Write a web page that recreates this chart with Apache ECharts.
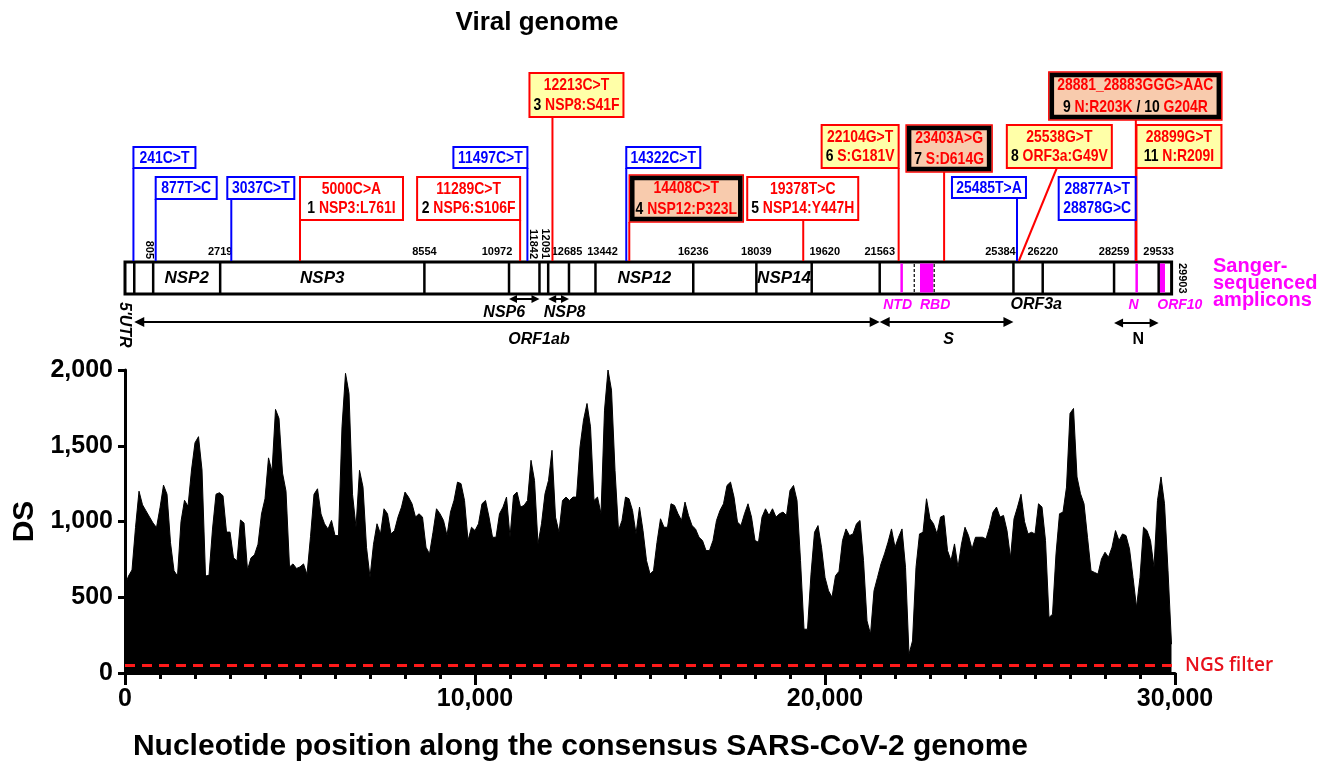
<!DOCTYPE html>
<html><head><meta charset="utf-8">
<script src="https://cdn.jsdelivr.net/npm/echarts@6/dist/echarts.min.js"></script>
<style>html,body{margin:0;padding:0;background:#fff}#main{width:1325px;height:772px}</style>
</head><body><div id="main"></div>
<script>
// ================= DATA =================
// DS coverage profile, one value every dsStep nucleotides
const dsStep = 100;
const dsValues = [
 576,640,680,960,1200,1110,1070,1030,990,960,
 1090,1240,1180,860,675,640,1000,1140,1100,1340,
 1520,1560,1340,640,645,950,1180,1190,1170,930,
 930,760,740,1010,990,680,760,780,850,1050,
 1150,1420,1330,1740,1680,1320,1200,700,720,690,
 700,720,650,900,1180,1216,1050,985,950,1007,
 907,907,1625,1978,1845,1180,962,1338,1227,830,
 631,850,985,918,1084,1051,918,940,1029,1095,
 1194,1161,1117,1029,1051,1029,830,786,929,1084,
 1051,1007,907,1062,1139,1260,1250,1139,874,962,
 940,985,1117,1139,1029,896,896,1051,1095,1161,
 896,1172,1194,1095,1106,1139,1404,1271,852,985,
 1183,1271,1470,1029,929,1139,1161,1139,1161,1161,
 1492,1669,1779,1625,1139,1161,1051,1735,2000,1867,
 1338,940,1007,1161,1150,1073,918,1095,940,742,
 653,675,863,1018,962,962,1117,1106,1051,1007,
 1128,1040,973,951,896,874,808,808,874,1007,
 1073,1117,1238,1260,1161,996,973,1051,1117,1029,
 874,863,1029,1084,1040,1084,1029,1051,1062,1040,
 1205,1238,1139,742,289,289,653,929,973,830,
 631,543,500,642,671,874,951,907,918,985,
 1007,742,344,256,543,631,720,786,863,951,
 830,896,951,698,124,212,698,918,929,1150,
 1018,985,918,1029,1040,808,742,852,698,852,
 962,907,819,896,896,896,885,962,1062,1095,
 1029,1040,940,760,1018,1095,1180,1000,918,929,
 918,1117,1095,874,366,388,786,1051,1062,1227,
 1713,1746,1294,1183,1117,896,675,664,653,753,
 797,764,830,940,874,918,907,819,631,433,
 631,962,940,874,698,1139,1294,1117,675,190
];
const ngsFilter = 50;
const yTicks = [0, 500, 1000, 1500, 2000];
const xTicks = [0, 10000, 20000, 30000];

// Genome map
const genomeLength = 29903;
const boundaries = [265, 805, 2719, 8554, 10972, 11842, 12091, 12685, 13442, 16236, 18039, 19620, 21563, 25384, 26220, 28259, 29533];
const boundaryLabels = [805, 2719, 8554, 10972, 11842, 12091, 12685, 13442, 16236, 18039, 19620, 21563, 25384, 26220, 28259, 29533, 29903];
const segmentNames = ['NSP2', 'NSP3', 'NSP12', 'NSP14'];
const segmentStarts = [805, 2719, 13442, 18039];
const segmentEnds = [2719, 8554, 16236, 19620];
const arrowNames = ['ORF1ab', 'S', 'N', 'NSP6', 'NSP8'];
const arrowStarts = [265, 21563, 28259, 10972, 12091];
const arrowEnds = [21563, 25384, 29533, 11842, 12685];
const plainRegionNames = ["5'UTR", 'ORF3a'];
const plainRegionStarts = [0, 25384];
const ampliconNames = ['NTD', 'RBD', 'N', 'ORF10'];
const ampliconStarts = [22190, 22714, 28905, 29550];
const ampliconEnds = [22190, 23094, 28905, 29715];
const rbdBounds = [22550, 23120];

// Mutations
const mutPos = [241, 877, 3037, 5000, 11289, 11497, 12213, 14322, 14408, 19378, 22104, 23403, 25485, 25538, 28877, 28881, 28899];
const mutNt = ['241C>T', '877T>C', '3037C>T', '5000C>A', '11289C>T', '11497C>T', '12213C>T', '14322C>T', '14408C>T', '19378T>C', '22104G>T', '23403A>G', '25485T>A', '25538G>T', '28877A>T\n28878G>C', '28881_28883GGG>AAC', '28899G>T'];
const mutAA = [null, null, null, [[1, 'NSP3:L761I']], [[2, 'NSP6:S106F']], null, [[3, 'NSP8:S41F']], null, [[4, 'NSP12:P323L']], [[5, 'NSP14:Y447H']], [[6, 'S:G181V']], [[7, 'S:D614G']], null, [[8, 'ORF3a:G49V']], null, [[9, 'N:R203K'], [10, 'G204R']], [[11, 'N:R209I']]];
const mutKind = ['syn', 'syn', 'syn', 'ns', 'ns', 'syn', 'nsY', 'syn', 'key', 'ns', 'nsY', 'key', 'syn', 'nsY', 'syn', 'key', 'nsY'];

// ================= LAYOUT / STYLE =================
const FONT = '"Liberation Sans", Arial, sans-serif';
const RED = '#ff0000', BLUE = '#0000ff', MAG = '#ff00ff', YEL = '#ffffa8', SAL = '#f8cbad';
const NARROW = 0.82;
const MAP = {barTop: 262, barBot: 294, numY: 252, geneY: 278, arrowY: 322, subArrowY: 299, labelY: 340, subLabelY: 313, ampLabelY: 305};
const boundaryLabelLayout = {805: {rot: 'up', dx: -4}, 11842: {rot: 'up', dx: -6}, 12091: {rot: 'up', dx: -3}, 29903: {rot: 'down', dx: 10},
  10972: {dx: -12}, 12685: {dx: -2}, 13442: {dx: 7}, 19620: {dx: 13}, 25384: {dx: -13}};
const arrowLayout = [
  {y: MAP.arrowY, ly: MAP.labelY, dx: 32, italic: true, head: 10},
  {y: MAP.arrowY, ly: MAP.labelY, dx: 2, italic: true, head: 10},
  {y: MAP.arrowY + 1, ly: MAP.labelY, dx: 2, italic: false, head: 9},
  {y: MAP.subArrowY, ly: MAP.subLabelY, dx: -20, italic: true, head: 8},
  {y: MAP.subArrowY, ly: MAP.subLabelY, dx: 6, italic: true, head: 8}
];
const ampLabelLayout = [{align: 'center', dx: -4}, {align: 'left', dx: 0}, {align: 'center', dx: -3}, {align: 'left', dx: -2}];
const boxLayout = [
  {top: 147, h: 21, w: 62, dx: 0},
  {top: 177, h: 22, w: 61, dx: 0},
  {top: 177, h: 22, w: 67, dx: -4},
  {top: 177, h: 43, w: 103, dx: 0},
  {top: 177, h: 43, w: 103, dx: -103},
  {top: 147, h: 21, w: 74, dx: -74},
  {top: 73, h: 44, w: 94, dx: -23},
  {top: 147, h: 21, w: 74, dx: 0},
  {top: 175, h: 47, w: 114, dx: 0},
  {top: 177, h: 43, w: 111, dx: -56},
  {top: 125, h: 43, w: 77, dx: -77},
  {top: 125, h: 47, w: 86, dx: -38},
  {top: 177, h: 21, w: 74, dx: -65},
  {top: 125, h: 43, w: 105, dx: -12, stemFrom: 50},
  {top: 177, h: 43, w: 77, dx: -77},
  {top: 72, h: 48, w: 173, dx: -87},
  {top: 125, h: 43, w: 85, dx: 0}
];
const BOXFONT = 'bold 17px ' + FONT;

const X = (api, v) => api.coord([v, 0])[0];
const mapSeries = (name, data, renderItem, z) => ({
  type: 'custom', name, coordinateSystem: 'cartesian2d', xAxisIndex: 1, yAxisIndex: 1,
  data, renderItem, z, clip: false, silent: true
});

function txt(x, y, text, font, fill, align, opts) {
  opts = opts || {};
  const el = {type: 'text', x, y, style: {text, font, fill, textAlign: align || 'center', textVerticalAlign: opts.va || 'middle'}};
  if (opts.scaleX) el.scaleX = opts.scaleX;
  if (opts.rotation) el.rotation = opts.rotation;
  if (opts.rich) el.style.rich = opts.rich;
  return el;
}

const chart = echarts.init(document.getElementById('main'));

const option = {
  animation: false,
  backgroundColor: '#ffffff',
  title: {text: 'Viral genome', left: 532, top: 5, textAlign: 'center',
    textStyle: {fontSize: 26, fontWeight: 'bold', color: '#000', fontFamily: FONT}},
  grid: [
    {left: 125, right: 150, top: 370, bottom: 99, outerBoundsMode: 'none'},
    {left: 125, right: 150, top: 0, height: 330, outerBoundsMode: 'none'}
  ],
  xAxis: [{
    type: 'value', min: xTicks[0], max: xTicks[xTicks.length - 1], interval: xTicks[1] - xTicks[0],
    axisLine: {show: true, lineStyle: {color: '#000', width: 3}},
    axisTick: {show: true, length: 12, lineStyle: {color: '#000', width: 3}},
    minorTick: {show: true, splitNumber: 10, length: 6, lineStyle: {color: '#000', width: 3}},
    splitLine: {show: false}, minorSplitLine: {show: false},
    axisLabel: {formatter: v => v.toLocaleString('en-US'), fontSize: 25, fontWeight: 'bold', color: '#000', fontFamily: FONT, margin: 14},
    name: 'Nucleotide position along the consensus SARS-CoV-2 genome', nameLocation: 'middle', nameGap: 59,
    nameTextStyle: {fontSize: 30, fontWeight: 'bold', color: '#000', fontFamily: FONT, padding: [0, 139, 0, 0]}
  }, {gridIndex: 1, type: 'value', min: 0, max: 30000, show: false}],
  yAxis: [{
    type: 'value', min: yTicks[0], max: yTicks[yTicks.length - 1], interval: yTicks[1] - yTicks[0],
    axisLine: {show: true, lineStyle: {color: '#000', width: 3}},
    axisTick: {show: true, length: 7, lineStyle: {color: '#000', width: 3}},
    splitLine: {show: false},
    axisLabel: {formatter: v => v.toLocaleString('en-US'), fontSize: 25, fontWeight: 'bold', color: '#000', fontFamily: FONT, margin: 12},
    name: 'DS', nameLocation: 'middle', nameGap: 80, nameRotate: 90,
    nameTextStyle: {fontSize: 30, fontWeight: 'bold', color: '#000', fontFamily: FONT}
  }, {gridIndex: 1, type: 'value', min: 0, max: 1, show: false}],
  graphic: [{
    type: 'text', x: 1213, y: 258, silent: true,
    style: {text: 'Sanger-\nsequenced\namplicons', font: 'bold 20px ' + FONT, fill: MAG, lineHeight: 17, textAlign: 'left', textVerticalAlign: 'top'}
  }],
  series: [
    {
      type: 'line', name: 'DS', xAxisIndex: 0, yAxisIndex: 0,
      data: dsValues.map((v, i) => [i * dsStep, v]),
      showSymbol: false, symbol: 'none', sampling: null, silent: true,
      lineStyle: {color: '#000', width: 1}, areaStyle: {color: '#000', opacity: 1},
      markLine: {
        silent: true, symbol: ['none', 'none'],
        data: [{yAxis: ngsFilter}],
        lineStyle: {color: '#ff1a1a', width: 3, type: [10, 7]},
        label: {show: true, position: 'end', formatter: 'NGS filter', color: '#e8101b', fontSize: 19, fontWeight: 600, fontFamily: '"Open Sans", sans-serif', distance: 10, padding: [0, 0, 12, 0]}
      }
    },
    // genome bar
    mapSeries('genome', [[0, genomeLength]], (p, api) => {
      const x0 = X(api, api.value(0)), x1 = X(api, api.value(1));
      return {type: 'rect', shape: {x: x0, y: MAP.barTop, width: x1 - x0, height: MAP.barBot - MAP.barTop},
        style: {fill: '#fff', stroke: '#000', lineWidth: 3}};
    }, 2),
    // amplicons
    mapSeries('amplicons', ampliconStarts.map((s, i) => [s, ampliconEnds[i], i]), (p, api) => {
      const i = api.value(2), x0 = X(api, api.value(0)), x1 = X(api, api.value(1));
      const ch = [];
      if (x1 - x0 < 1) ch.push({type: 'line', shape: {x1: x0, y1: MAP.barTop + 1.5, x2: x0, y2: MAP.barBot - 1.5}, style: {stroke: MAG, lineWidth: 2.5}});
      else ch.push({type: 'rect', shape: {x: x0, y: MAP.barTop + 1.5, width: x1 - x0, height: MAP.barBot - MAP.barTop - 3}, style: {fill: MAG}});
      const L = ampLabelLayout[i];
      ch.push(txt(x0 + L.dx, MAP.ampLabelY, ampliconNames[i], 'italic bold 14px ' + FONT, MAG, L.align));
      return {type: 'group', children: ch};
    }, 3),
    // RBD domain dashed bounds
    mapSeries('rbd', rbdBounds.map(b => [b, 0]), (p, api) => {
      const x = X(api, api.value(0));
      return {type: 'line', shape: {x1: x, y1: MAP.barTop + 2, x2: x, y2: MAP.barBot - 2}, style: {stroke: '#000', lineWidth: 1.2, lineDash: [3, 2]}};
    }, 4),
    // boundaries
    mapSeries('boundaries', boundaries.map(b => [b, 0]), (p, api) => {
      const x = X(api, api.value(0));
      return {type: 'line', shape: {x1: x, y1: MAP.barTop, x2: x, y2: MAP.barBot}, style: {stroke: '#000', lineWidth: 2.5}};
    }, 4),
    // boundary numbers
    mapSeries('boundaryLabels', boundaryLabels.map(b => [b, 0]), (p, api) => {
      const v = api.value(0), x = X(api, v);
      const L = boundaryLabelLayout[v] || {};
      const f = 'bold 11px ' + FONT;
      if (L.rot === 'up') return txt(x + L.dx, MAP.barTop - 3, String(v), f, '#000', 'right', {rotation: -Math.PI / 2});
      if (L.rot === 'down') return txt(x + L.dx, MAP.barTop + 1, String(v), f, '#000', 'left', {rotation: -Math.PI / 2});
      return txt(x + (L.dx || 0), MAP.numY, String(v), f, '#000', 'center');
    }, 4),
    // segment names inside the bar
    mapSeries('segments', segmentStarts.map((s, i) => [s, segmentEnds[i], i]), (p, api) => {
      const xc = (X(api, api.value(0)) + X(api, api.value(1))) / 2;
      return txt(xc, MAP.geneY, segmentNames[api.value(2)], 'italic bold 17px ' + FONT, '#000', 'center');
    }, 4),
    // double arrows
    mapSeries('arrows', arrowStarts.map((s, i) => [s, arrowEnds[i], i]), (p, api) => {
      const i = api.value(2), L = arrowLayout[i];
      const xa = X(api, api.value(0)), xb = X(api, api.value(1)), y = L.y, hd = L.head, hw = hd * 0.5;
      const ch = [
        {type: 'line', shape: {x1: xa + hd - 1, y1: y, x2: xb - hd + 1, y2: y}, style: {stroke: '#000', lineWidth: 2}},
        {type: 'polygon', shape: {points: [[xa, y], [xa + hd, y - hw], [xa + hd, y + hw]]}, style: {fill: '#000'}},
        {type: 'polygon', shape: {points: [[xb, y], [xb - hd, y - hw], [xb - hd, y + hw]]}, style: {fill: '#000'}}
      ];
      ch.push(txt((xa + xb) / 2 + L.dx, L.ly, arrowNames[i], (L.italic ? 'italic ' : '') + 'bold 16px ' + FONT, '#000', 'center'));
      return {type: 'group', children: ch};
    }, 4),
    // plain region labels
    mapSeries('regionLabels', plainRegionStarts.map((s, i) => [s, i]), (p, api) => {
      const i = api.value(1), x = X(api, api.value(0));
      if (i === 0) return txt(x - 0.5, 302, plainRegionNames[i], 'italic bold 16px ' + FONT, '#000', 'left', {rotation: -Math.PI / 2});
      return txt(x - 3, MAP.ampLabelY, plainRegionNames[i], 'italic bold 16px ' + FONT, '#000', 'left');
    }, 4),
    // mutation stems
    mapSeries('stems', mutPos.map((m, i) => [m, i]), (p, api) => {
      const i = api.value(1), sx = X(api, api.value(0)), L = boxLayout[i];
      const x1 = L.stemFrom != null ? sx + L.dx + L.stemFrom : sx;
      return {type: 'line', shape: {x1, y1: L.top + L.h, x2: sx, y2: MAP.barTop - 1}, style: {stroke: mutKind[i] === 'syn' ? BLUE : RED, lineWidth: 2}};
    }, 5),
    // mutation boxes
    mapSeries('mutations', mutPos.map((m, i) => [m, i]), (p, api) => {
      const i = api.value(1), sx = X(api, api.value(0)), L = boxLayout[i], kind = mutKind[i];
      const left = sx + L.dx, top = L.top, w = L.w, h = L.h;
      const ch = [];
      if (kind === 'key') {
        ch.push({type: 'rect', shape: {x: left, y: top, width: w, height: h}, style: {fill: SAL, stroke: RED, lineWidth: 1.5}});
        ch.push({type: 'rect', shape: {x: left + 3, y: top + 3, width: w - 6, height: h - 6}, style: {fill: 'none', stroke: '#000', lineWidth: 4.5}});
      } else {
        ch.push({type: 'rect', shape: {x: left, y: top, width: w, height: h},
          style: {fill: kind === 'nsY' ? YEL : '#fff', stroke: kind === 'syn' ? BLUE : RED, lineWidth: 2}});
      }
      const color = kind === 'syn' ? BLUE : RED;
      const lines = mutNt[i].split('\n').map(t => ({text: t}));
      if (mutAA[i]) {
        lines.push({text: mutAA[i].map(([n, c]) => '{k|' + n + '} {r|' + c + '}').join(' {k|/} '), rich: true});
      }
      const cx = left + w / 2;
      lines.forEach((ln, k) => {
        const cy = lines.length === 1 ? top + h / 2 + 0.5 : top + h * (k === 0 ? 0.28 : 0.73);
        const opts = {scaleX: NARROW};
        if (ln.rich) opts.rich = {
          k: {fill: '#000', textFill: '#000', font: BOXFONT},
          r: {fill: RED, textFill: RED, font: BOXFONT}
        };
        ch.push(txt(cx, cy, ln.text, BOXFONT, ln.rich ? '#000' : color, 'center', opts));
      });
      return {type: 'group', children: ch};
    }, 6)
  ]
};
chart.setOption(option);
</script>
</body></html>
